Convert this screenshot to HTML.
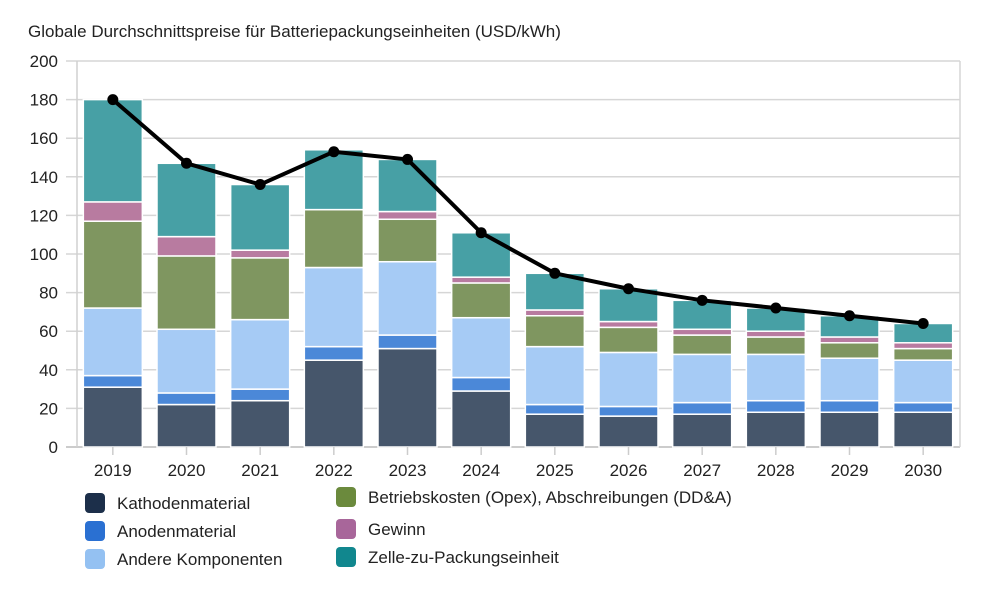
<!DOCTYPE html>
<html><head><meta charset="utf-8"><style>
body{margin:0;background:#fff;font-family:"Liberation Sans","DejaVu Sans",sans-serif;}
svg text{font-family:"Liberation Sans","DejaVu Sans",sans-serif;fill:#222;}
</style></head><body>
<svg id="chart" width="1000" height="585">
<text x="28" y="37" font-size="17">Globale Durchschnittspreise für Batteriepackungseinheiten (USD/kWh)</text>
<g id="grid"></g><g id="bars"></g><g id="line"></g><g id="axes"></g><g id="legend"></g>
</svg>
<script>
const years=["2019","2020","2021","2022","2023","2024","2025","2026","2027","2028","2029","2030"];
const kathode=[31,22,24,45,51,29,17,16,17,18,18,18];
const anode=[6,6,6,7,7,7,5,5,6,6,6,5];
const andere=[35,33,36,41,38,31,30,28,25,24,22,22];
const opex=[45,38,32,30,22,18,16,13,10,9,8,6];
const gewinn=[10,10,4,0,4,3,3,3,3,3,3,3];
const zelle=[53,38,34,31,27,23,19,17,15,12,11,10];
const average=[180,147,136,153,149,111,90,82,76,72,68,64];
const yTicks=[0,20,40,60,80,100,120,140,160,180,200];
const seriesNames=["Kathodenmaterial","Anodenmaterial","Andere Komponenten","Betriebskosten (Opex), Abschreibungen (DD&A)","Gewinn","Zelle-zu-Packungseinheit"];
const seriesData=[kathode,anode,andere,opex,gewinn,zelle];
const barColors=["#46566b","#4b88d8","#a6cbf5","#7f9660","#b87ba0","#47a0a5"];
const legendColors=["#1c2f4a","#2a70d2","#94c1f2","#6b8a3d","#a8669a","#11878e"];
const NS="http://www.w3.org/2000/svg";
const x0=76,x1=960,y0=447,yTop=61;
const band=(x1-x0)/years.length,bw=59;
const y=v=>y0-(v/200)*(y0-yTop);
const xc=i=>x0+band*(i+0.5);
function mk(t,a,p){const e=document.createElementNS(NS,t);for(const k in a)e.setAttribute(k,a[k]);p.appendChild(e);return e;}
const grid=document.getElementById('grid'),axes=document.getElementById('axes');
yTicks.forEach(t=>{
 const l=mk('line',{x1:66,x2:x1,y1:y(t),y2:y(t),stroke:t===0?'#bbb':'#d6d6d6','stroke-width':1.5},grid);
 
 
 const tx=mk('text',{x:58,y:y(t)+6,'text-anchor':'end','font-size':17},axes);tx.textContent=t;
 
 
});
const va=mk('line',{x1:77,x2:77,y1:yTop,y2:y0,stroke:'#d0d0d0','stroke-width':1.5},grid);


const vr=mk('line',{x1:x1,x2:x1,y1:yTop,y2:y0,stroke:'#d6d6d6','stroke-width':1.5},grid);


const bars=document.getElementById('bars');
years.forEach((yr,i)=>{
 let acc=0;
 seriesData.forEach((s,k)=>{
  const v=s[i];if(v<=0){acc+=v;return;}
  const top=y(acc+v),bot=y(acc);
  const r=mk('rect',{x:xc(i)-bw/2,y:top,width:bw,height:Math.max(0,bot-top),fill:barColors[k],stroke:'#fff','stroke-width':1.5},bars);
  
  
  acc+=v;
 });
 const tk=mk('line',{x1:xc(i),x2:xc(i),y1:y0,y2:y0+8,stroke:'#ccc','stroke-width':1.5},axes);
 
 
 const tx=mk('text',{x:xc(i),y:476,'text-anchor':'middle','font-size':17},axes);tx.textContent=yr;
 
 
});
const lg=document.getElementById('line');
const pl=mk('polyline',{points:average.map((v,i)=>xc(i)+','+y(v)).join(' '),fill:'none',stroke:'#000','stroke-width':4,'stroke-linejoin':'round'},lg);


average.forEach((v,i)=>{
 const c=mk('circle',{cx:xc(i),cy:y(v),r:5.5,fill:'#000'},lg);
 
 
});
const leg=document.getElementById('legend');
const pos=[[85,503],[85,531],[85,559],[336,497],[336,529],[336,557]];
seriesNames.forEach((n,k)=>{
 const [lx,ly]=pos[k];
 const g=mk('g',{},leg);
 
 
 mk('rect',{x:lx,y:ly-10,width:20,height:20,rx:4,fill:legendColors[k]},g);
 const t=mk('text',{x:lx+32,y:ly+6,'font-size':17},g);t.textContent=n;
});
</script>
</body></html>
